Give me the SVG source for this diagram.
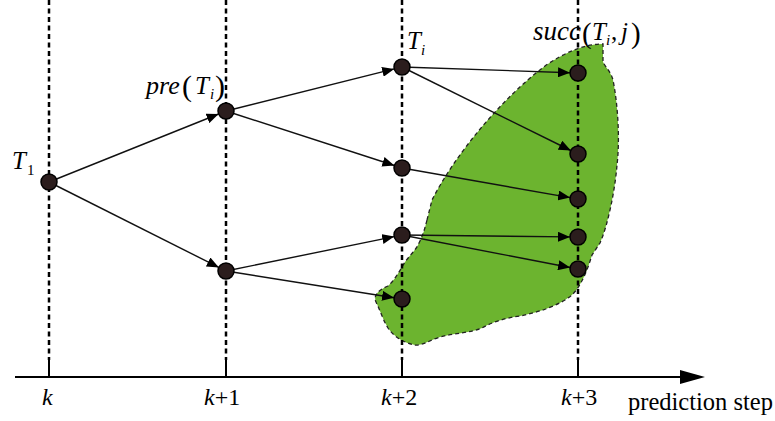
<svg xmlns="http://www.w3.org/2000/svg" width="775" height="421" viewBox="0 0 775 421" font-family="Liberation Serif, DejaVu Serif, serif">
<defs>
<marker id="ah" markerUnits="userSpaceOnUse" viewBox="0 0 12 10" refX="12" refY="5" markerWidth="12" markerHeight="10" orient="auto">
<path d="M0,0 L12,5 L0,10 Z" fill="#000"/>
</marker>
</defs>
<style>
.grid{stroke:#000;stroke-width:2.5;stroke-dasharray:5 3.5;fill:none}
.tick{stroke:#000;stroke-width:2;fill:none}
.edge{stroke:#111;stroke-width:1.4;fill:none;marker-end:url(#ah)}
.node{fill:#2b1d1d;stroke:#000;stroke-width:1.5}
text{fill:#000}
.it{font-style:italic}
</style>
<rect width="775" height="421" fill="#fff"/>
<g id="region">
<path d="M 427,220 L 432,200 C 455,155 500,100 545,66 C 565,52 585,44 603,44 L 603,62 C 606,68 611,72 613,80 C 618,105 620,140 617,165 C 615,190 608,225 600,243 L 592,255 C 588,268 582,285 572,295 C 560,305 540,312 520,316 C 505,318 492,322 482,328 C 470,333 455,333 440,337 C 430,340 422,346 415,345 C 405,343 395,338 388,328 C 383,320 380,310 376,302 C 373,296 378,290 388,286 C 395,280 400,270 405,262 C 410,255 416,250 419,243 C 423,235 425,228 427,220 Z" fill="#6cb42f" stroke="#222" stroke-width="1.3" stroke-dasharray="4 3"/>
</g>
<g id="axis">
<line class="grid" x1="49" y1="0" x2="49" y2="360"/>
<line class="grid" x1="226" y1="0" x2="226" y2="360"/>
<line class="grid" x1="402" y1="0" x2="402" y2="360"/>
<line class="grid" x1="578" y1="0" x2="578" y2="360"/>
<line class="tick" x1="49" y1="360" x2="49" y2="377"/>
<line class="tick" x1="226" y1="360" x2="226" y2="377"/>
<line class="tick" x1="402" y1="360" x2="402" y2="377"/>
<line class="tick" x1="578" y1="360" x2="578" y2="377"/>
<line class="tick" x1="15" y1="377" x2="684" y2="377"/>
<polygon points="680,370 705,377 680,384" fill="#000"/>
<text x="42" y="405" font-size="24" class="it">k</text>
<text x="204" y="405" font-size="24"><tspan class="it">k</tspan>+1</text>
<text x="381" y="405" font-size="24"><tspan class="it">k</tspan>+2</text>
<text x="561" y="405" font-size="24"><tspan class="it">k</tspan>+3</text>
<text x="628" y="410" font-size="24.5">prediction step</text>
</g>
<g id="connectors">
<line class="edge" x1="49" y1="182" x2="218.6" y2="114"/>
<line class="edge" x1="49" y1="182" x2="218.9" y2="267.4"/>
<line class="edge" x1="226" y1="111" x2="394.2" y2="68.9"/>
<line class="edge" x1="226" y1="111" x2="394.4" y2="165.5"/>
<line class="edge" x1="226" y1="271" x2="394.2" y2="236.6"/>
<line class="edge" x1="226" y1="271" x2="394.1" y2="297.7"/>
<line class="edge" x1="402" y1="67" x2="570" y2="72.7"/>
<line class="edge" x1="402" y1="67" x2="570.8" y2="150.5"/>
<line class="edge" x1="402" y1="168" x2="570.1" y2="197.6"/>
<line class="edge" x1="402" y1="235" x2="570" y2="236.9"/>
<line class="edge" x1="402" y1="235" x2="570.1" y2="267.5"/>
</g>
<g id="n-T1"><circle class="node" cx="49" cy="182" r="8"/>
<text x="12" y="169" font-size="25"><tspan class="it">T</tspan><tspan x="27" y="175" font-size="15">1</tspan></text></g>
<g id="n-pre"><circle class="node" cx="226" cy="111" r="8"/>
<text x="146" y="94" font-size="26"><tspan class="it">pre</tspan><tspan x="182" y="96" font-size="30">(</tspan><tspan x="195" y="94" font-size="25" class="it">T</tspan><tspan x="210" y="99" font-size="15" class="it">i</tspan><tspan x="215" y="96" font-size="30">)</tspan></text></g>
<g id="n-k1b"><circle class="node" cx="226" cy="271" r="8"/></g>
<g id="n-Ti"><circle class="node" cx="402" cy="67" r="8"/>
<text x="407" y="49" font-size="25"><tspan class="it">T</tspan><tspan x="421" y="55" font-size="15" class="it">i</tspan></text></g>
<g id="n-k2b"><circle class="node" cx="402" cy="168" r="8"/></g>
<g id="n-k2c"><circle class="node" cx="402" cy="235" r="8"/></g>
<g id="n-k2d"><circle class="node" cx="402" cy="299" r="8"/></g>
<g id="n-succ"><circle class="node" cx="578" cy="73" r="8"/>
<text x="533" y="40" font-size="27"><tspan class="it">succ</tspan><tspan x="582" y="43" font-size="29">(</tspan><tspan x="592" y="40" font-size="25" class="it">T</tspan><tspan x="606" y="45" font-size="15" class="it">i</tspan><tspan x="611" y="40" font-size="25">,</tspan><tspan x="621" y="40" font-size="25" class="it">j</tspan><tspan x="631" y="43" font-size="29">)</tspan></text></g>
<g id="n-k3b"><circle class="node" cx="578" cy="154" r="8"/></g>
<g id="n-k3c"><circle class="node" cx="578" cy="199" r="8"/></g>
<g id="n-k3d"><circle class="node" cx="578" cy="237" r="8"/></g>
<g id="n-k3e"><circle class="node" cx="578" cy="269" r="8"/></g>
</svg>
